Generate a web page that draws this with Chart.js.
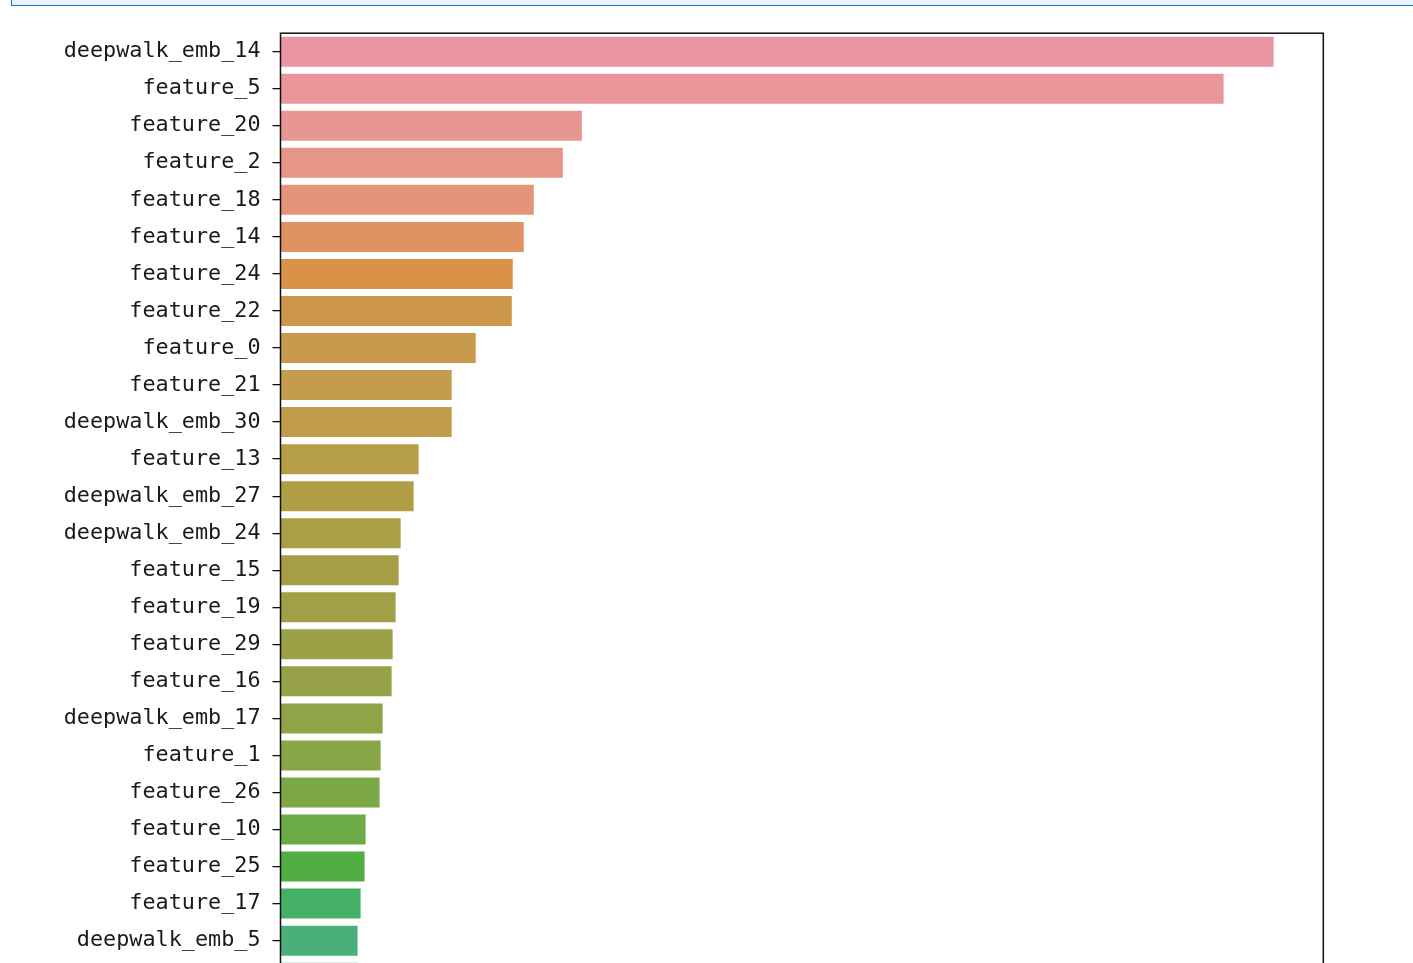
<!DOCTYPE html>
<html>
<head>
<meta charset="utf-8">
<script src="https://cdn.jsdelivr.net/npm/chart.js@4.4.1/dist/chart.umd.min.js"></script>
<style>
  html, body { margin: 0; padding: 0; background: #ffffff; overflow: hidden; width: 1413px; height: 963px; }
  #cellbox { position: absolute; left: 11px; top: -20px; width: 1420px; height: 24px;
             border: 1px solid #1f74cf; background: #eaf3fc; box-sizing: content-box; z-index: 2; }
  #c { position: absolute; left: 0; top: 0; width: 1413px; height: 1000px; }
</style>
</head>
<body>
<div id="cellbox"></div>
<canvas id="c" width="1413" height="1000"></canvas>
<script>
const categories = [
  "deepwalk_emb_14", "feature_5", "feature_20", "feature_2", "feature_18",
  "feature_14", "feature_24", "feature_22", "feature_0", "feature_21",
  "deepwalk_emb_30", "feature_13", "deepwalk_emb_27", "deepwalk_emb_24", "feature_15",
  "feature_19", "feature_29", "feature_16", "deepwalk_emb_17", "feature_1",
  "feature_26", "feature_10", "feature_25", "feature_17", "deepwalk_emb_5",
  ""
];
const importance = [
  99.2, 94.2, 30.1, 28.2, 25.3,
  24.3, 23.2, 23.1, 19.5, 17.1,
  17.1, 13.8, 13.3, 12.0, 11.8,
  11.5, 11.2, 11.1, 10.2, 10.0,
  9.9, 8.5, 8.4, 8.0, 7.7,
  7.7
];
const barColors = [
  "#ea95a3", "#e9969b", "#e89693", "#e69687", "#e5947a",
  "#e09262", "#da9248", "#cd974b", "#c79a4e", "#c49c4e",
  "#c09c4b", "#b69d48", "#b09e47", "#aa9e47", "#a69e47",
  "#a19f47", "#9ba147", "#97a248", "#90a447", "#88a648",
  "#7da847", "#6cab47", "#50ae45", "#47b067", "#4aaf78",
  "#4aae86"
];

const frameBox = {
  id: 'frameBox',
  afterDatasetsDraw(chart) {
    const a = chart.chartArea, ctx = chart.ctx;
    ctx.save();
    ctx.strokeStyle = '#111111';
    ctx.lineWidth = 1.5;
    ctx.strokeRect(a.left, a.top, a.right - a.left, a.bottom - a.top);
    ctx.restore();
  }
};

new Chart(document.getElementById('c'), {
  type: 'bar',
  data: {
    labels: categories,
    datasets: [{
      data: importance,
      backgroundColor: barColors,
      borderWidth: 0,
      barPercentage: 0.81,
      categoryPercentage: 1.0
    }]
  },
  options: {
    indexAxis: 'y',
    responsive: false,
    devicePixelRatio: 1,
    animation: false,
    layout: { padding: { left: 0, right: 89.7, top: 33.2, bottom: 3.8 } },
    plugins: { legend: { display: false }, tooltip: { enabled: false } },
    scales: {
      x: {
        display: false,
        min: 0,
        max: Math.max(...importance) * 1.05
      },
      y: {
        position: 'left',
        afterFit(scale) {
          scale.width = 280.5;
          scale.paddingTop = 0;
          scale.paddingBottom = 0;
        },
        border: { display: false },
        grid: {
          offset: false,
          drawOnChartArea: false,
          drawTicks: true,
          tickLength: 8,
          color: '#111111',
          lineWidth: 1.3
        },
        ticks: {
          autoSkip: false,
          padding: 12,
          color: '#1a1a1a',
          font: { family: "'DejaVu Sans Mono', monospace", size: 21.8 }
        }
      }
    }
  },
  plugins: [frameBox]
});
</script>
</body>
</html>
